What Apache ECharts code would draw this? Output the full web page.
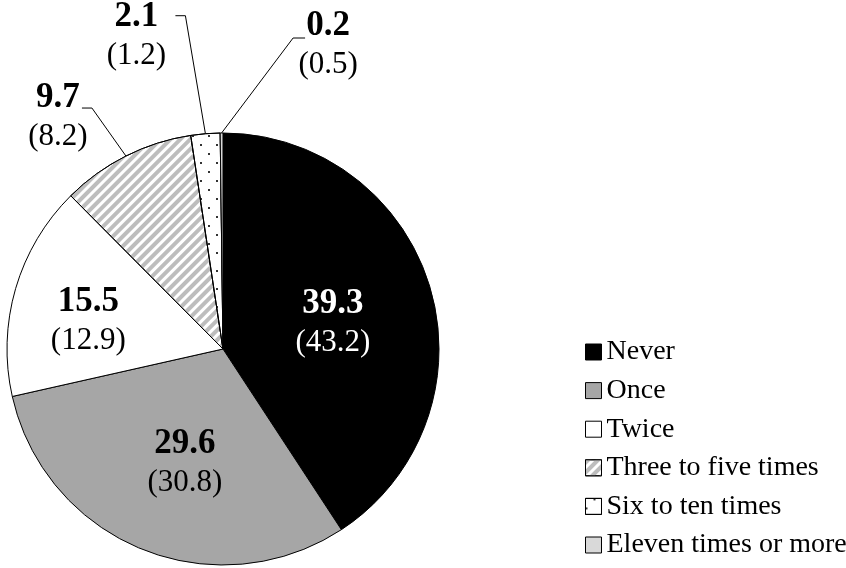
<!DOCTYPE html>
<html><head><meta charset="utf-8">
<script src="https://cdn.jsdelivr.net/npm/echarts@6/dist/echarts.min.js"></script>
<style>html,body{margin:0;padding:0;background:#fff}#c{width:846px;height:568px}</style>
</head><body><div id="c"></div>
<script>
const categories = ['Never', 'Once', 'Twice', 'Three to five times', 'Six to ten times', 'Eleven times or more'];
const mainValues = [39.3, 29.6, 15.5, 9.7, 2.1, 0.2];
const compareValues = [43.2, 30.8, 12.9, 8.2, 1.2, 0.5];

const FONT = "'Liberation Serif','Times New Roman',serif";
const PIE_CX = 223, PIE_CY = 349, PIE_R = 216;

const sliceStyles = [
  { color: '#000000' },
  { color: '#a6a6a6' },
  { color: '#ffffff' },
  { color: '#ffffff', decal: { symbol: 'rect', symbolSize: 1, color: '#bdbdbd', dashArrayX: [1, 0], dashArrayY: [3.5, 3], rotation: -Math.PI / 4 } },
  { color: '#ffffff', decal: { symbol: 'rect', symbolSize: 1, color: '#333333', dashArrayX: [[2, 14], [0, 8, 2, 6]], dashArrayY: [2, 7], rotation: 0 } },
  { color: '#d9d9d9' }
];

const labelPlacement = [
  { inside: true, dx: 6.5, dy: 5 },
  { inside: true, dx: 2.5, dy: 14 },
  { inside: true, dx: -31, dy: 3 },
  { inside: false, elbow: [-34, -48], end: [-44, -48], text: [-68, -38.5] },
  { inside: false, elbow: [-20, -118], end: [-30, -118], text: [-69, -97.5] },
  { inside: false, elbow: [71.5, -95], end: [83.5, -95], text: [106.5, -87.5] }
];

const total = mainValues.reduce((a, b) => a + b, 0);
function midAngle(i) {
  let s = 0;
  for (let k = 0; k < i; k++) s += mainValues[k];
  return (s + mainValues[i] / 2) / total * 2 * Math.PI;
}

const chart = echarts.init(document.getElementById('c'), null, { renderer: 'canvas' });
chart.setOption({
  animation: false,
  backgroundColor: '#ffffff',
  legend: {
    orient: 'vertical', left: 580, top: 332,
    itemWidth: 16, itemHeight: 16, itemGap: 8.6, icon: 'rect',
    textStyle: { fontFamily: FONT, fontSize: 28, color: '#000', lineHeight: 30 },
    itemStyle: { borderColor: '#000', borderWidth: 1 },
    data: categories
  },
  series: [{
    type: 'pie',
    center: [PIE_CX, PIE_CY],
    radius: PIE_R,
    startAngle: 90,
    clockwise: true,
    avoidLabelOverlap: false,
    itemStyle: { borderColor: '#000', borderWidth: 1 },
    emphasis: { disabled: true },
    label: {
      show: true,
      fontFamily: FONT,
      formatter: function (p) {
        const i = p.dataIndex;
        const w = i === 0 ? 'w' : '';
        return '{b' + w + '|' + mainValues[i].toFixed(1) + '}\n{p' + w + '|(' + compareValues[i].toFixed(1) + ')}';
      },
      rich: {
        b: { fontFamily: FONT, fontWeight: 'bold', fontSize: 35, lineHeight: 39, color: '#000', align: 'center' },
        p: { fontFamily: FONT, fontSize: 31, lineHeight: 39, color: '#000', align: 'center' },
        bw: { fontFamily: FONT, fontWeight: 'bold', fontSize: 35, lineHeight: 39, color: '#fff', align: 'center' },
        pw: { fontFamily: FONT, fontSize: 31, lineHeight: 39, color: '#fff', align: 'center' }
      }
    },
    labelLine: { show: true, length: 10, length2: 10, lineStyle: { color: '#000', width: 1 } },
    labelLayout: function (p) {
      const i = p.dataIndex, pl = labelPlacement[i], a = midAngle(i);
      const s = Math.sin(a), c = Math.cos(a);
      if (pl.inside) {
        return { x: PIE_CX + PIE_R / 2 * s + pl.dx, y: PIE_CY - PIE_R / 2 * c + pl.dy, align: 'center', verticalAlign: 'middle' };
      }
      const ex = PIE_CX + PIE_R * s, ey = PIE_CY - PIE_R * c;
      return {
        x: ex + pl.text[0], y: ey + pl.text[1], align: 'center', verticalAlign: 'middle',
        labelLinePoints: [[ex, ey], [ex + pl.elbow[0], ey + pl.elbow[1]], [ex + pl.end[0], ey + pl.end[1]]]
      };
    },
    data: categories.map((name, i) => ({
      name: name,
      value: mainValues[i],
      itemStyle: sliceStyles[i],
      label: { position: labelPlacement[i].inside ? 'inside' : 'outside' },
      labelLine: { show: !labelPlacement[i].inside }
    }))
  }]
});
</script>
</body></html>
